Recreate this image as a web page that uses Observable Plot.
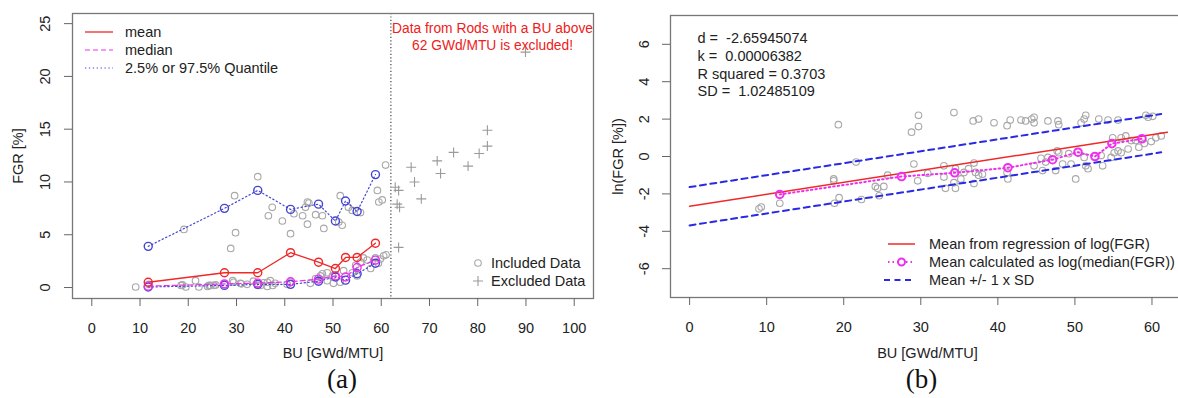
<!DOCTYPE html>
<html><head><meta charset="utf-8">
<script src="https://cdn.jsdelivr.net/npm/d3@7"></script>
<script src="https://cdn.jsdelivr.net/npm/@observablehq/plot@0.6"></script>
<style>
html,body{margin:0;padding:0;background:#fff;overflow:hidden;}
#root{position:relative;width:1178px;height:398px;overflow:hidden;background:#fff;}
.panel{position:absolute;top:0;width:600px;height:398px;}
.panel svg{max-width:none !important;}
</style></head><body><div id="root"><div id="pa" class="panel" style="left:0"></div><div id="pb" class="panel" style="left:600px"></div></div>
<script>
// ---------- Panel (a): FGR [%] vs BU ----------
const aIncBU = [9.1, 11.8, 18.5, 18.8, 19.1, 19.5, 21.5, 22.2, 24.0, 24.3, 24.6, 25.3, 25.7, 27.5, 28.8, 29.2, 29.4, 29.6, 29.8, 30.8, 31.0, 32.2, 33.5, 34.4, 34.4, 35.0, 35.6, 36.4, 36.4, 36.6, 37.0, 37.4, 37.5, 38.0, 39.5, 40.5, 41.2, 41.2, 41.9, 43.7, 44.3, 44.7, 44.7, 45.0, 45.3, 46.4, 46.4, 47.4, 47.8, 47.8, 48.1, 48.8, 48.8, 49.9, 50.1, 51.2, 51.5, 51.5, 51.9, 52.2, 53.2, 54.0, 54.0, 54.7, 55.0, 55.7, 55.7, 56.3, 57.1, 57.8, 58.8, 59.2, 59.4, 59.5, 59.8, 60.2, 60.5, 60.9, 61.0];
const aIncFGR = [0.05, 0.3, 0.2, 0.25, 5.5, 0.05, 0.65, 0.05, 0.1, 0.2, 0.2, 0.2, 0.25, 0.3, 3.7, 0.65, 0.5, 8.7, 5.2, 0.4, 0.35, 0.3, 0.6, 10.5, 0.2, 0.2, 0.45, 0.1, 0.5, 6.8, 0.65, 7.6, 0.2, 0.4, 6.3, 0.3, 5.1, 0.5, 7.0, 6.8, 7.6, 6.0, 8.1, 8.0, 0.4, 6.9, 0.85, 1.1, 6.8, 1.3, 5.6, 1.4, 0.65, 1.1, 0.4, 6.2, 8.7, 0.5, 5.9, 1.6, 7.6, 7.3, 1.4, 2.1, 1.1, 7.1, 2.4, 2.8, 2.6, 1.8, 2.8, 9.2, 2.3, 8.1, 2.7, 8.3, 3.0, 11.6, 3.1];
const aExBU  = [62.9, 63.6, 63.3, 63.8, 63.6, 66.2, 66.9, 68.3, 71.6, 72.3, 75.0, 78.0, 80.3, 82.0, 82.0, 89.9];
const aExFGR = [9.5, 9.2, 7.9, 7.6, 3.8, 11.4, 10.0, 8.4, 12.0, 10.8, 12.8, 11.5, 12.7, 13.4, 14.9, 22.3];
const statBU    = [11.7, 27.5, 34.4, 41.2, 47.0, 50.5, 52.6, 55.0, 58.8];
const meanFGR   = [0.5, 1.4, 1.4, 3.3, 2.4, 1.8, 2.85, 2.85, 4.2];
const medianFGR = [0.13, 0.34, 0.42, 0.55, 0.8, 1.1, 1.0, 1.9, 2.6];
const q975FGR   = [3.9, 7.5, 9.2, 7.4, 7.9, 6.3, 8.2, 7.2, 10.7];
const q025FGR   = [0.05, 0.2, 0.3, 0.3, 0.6, 1.0, 0.7, 1.3, 2.3];
const cutoffBU  = [62];
const aXTicks = [0, 10, 20, 30, 40, 50, 60, 70, 80, 90, 100];
const aYTicks = [0, 5, 10, 15, 20, 25];
const aLegendTop = ["mean", "median", "2.5% or 97.5% Quantile"];
const aLegendBottom = ["Included Data", "Excluded Data"];
const aNote = "Data from Rods with a BU above\n62 GWd/MTU is excluded!";

// ---------- Panel (b): ln(FGR) vs BU ----------
const bBU = [9.0, 9.3, 11.7, 18.7, 18.7, 18.8, 19.3, 19.4, 21.6, 22.3, 24.1, 24.4, 24.6, 25.2, 25.7, 28.8, 29.1, 29.6, 29.7, 29.7, 30.9, 33.0, 33.0, 33.2, 34.3, 34.3, 34.5, 34.5, 35.2, 35.6, 36.2, 36.8, 36.9, 36.9, 37.1, 37.5, 37.5, 38.0, 39.5, 41.2, 41.2, 41.3, 41.6, 43.0, 43.6, 44.4, 44.7, 44.7, 44.7, 45.6, 45.8, 46.2, 46.5, 46.5, 47.5, 47.7, 47.8, 47.9, 47.9, 48.4, 49.2, 49.5, 50.1, 50.8, 51.2, 51.2, 51.4, 51.4, 51.7, 53.1, 53.4, 53.6, 54.3, 54.7, 54.9, 55.1, 55.6, 55.6, 56.0, 56.0, 56.6, 56.9, 57.3, 57.9, 58.3, 59.0, 59.2, 59.5, 59.9, 60.1, 60.5, 61.2];
const bLn = [-2.8, -2.7, -2.5, -1.2, -1.3, -2.5, 1.7, -2.2, -0.3, -2.3, -1.6, -1.7, -2.1, -1.6, -1.0, 1.3, -0.4, -1.3, 1.6, 2.2, -0.9, -0.5, -1.1, -1.7, 2.35, -1.4, -1.7, -0.65, -1.2, -0.85, -0.65, 1.9, -0.35, -1.45, -0.85, 2.0, -1.0, -0.95, 1.8, 1.65, -0.85, -1.2, 1.95, 1.95, 1.9, 2.0, 2.1, 1.8, -0.5, -0.1, -0.75, -0.3, 1.9, -0.05, -0.75, 0.3, 1.9, 1.7, 0.2, -0.4, 0.15, -0.4, -1.2, 1.8, 2.0, -0.05, 2.2, -0.5, -0.65, 2.0, 0.05, -0.5, 1.95, -0.05, 1.0, 0.2, 1.95, 0.3, 0.2, 1.0, 1.1, 0.4, 0.85, 0.85, 0.5, 0.7, 2.2, 2.1, 0.8, 2.15, 1.0, 1.1];
const bMedBU = [11.7, 27.5, 34.4, 41.3, 47.1, 50.4, 52.6, 54.8, 58.7];
const bMedLn = [-2.03, -1.07, -0.87, -0.6, -0.17, 0.23, 0.0, 0.69, 0.95];
const regBU    = [0, 62];
const regMean  = [-2.659, 1.298];
const sdBU     = [0, 61.2];
const sdUpper  = [-1.635, 2.272];
const sdLower  = [-3.684, 0.222];
const bXTicks = [0, 10, 20, 30, 40, 50, 60];
const bYTicks = [-6, -4, -2, 0, 2, 4, 6];
const bStats = "d =\u00a0 -2.65945074\nk =\u00a0 0.00006382\nR squared = 0.3703\nSD =\u00a0 1.02485109";
const bLegend = ["Mean from regression of log(FGR)", "Mean calculated as log(median(FGR))", "Mean +/- 1 x SD"];

// ---------- style ----------
const FONT = "'Liberation Sans', Arial, sans-serif";
const SERIF = "'Liberation Serif', 'Times New Roman', serif";
const TXT = "#222";
const AX = "#666";
const RED = "#f02828", MAG = "#ee30ee", BLUE = "#4444d4", BLUE2 = "#2a2ae6", GREY = "#a8a8a8", GREYX = "#9a9a9a";
const FS = 14.5;
const STYLE = {fontFamily: FONT, fontSize: FS + "px", background: "transparent", overflow: "visible", maxWidth: "none"};

const rows = (xs, ys) => xs.map((x, i) => ({x, y: ys[i]})).filter(d => d.y !== undefined);

function yTickLabels(ticks, dx) {
  return Plot.text(ticks, {y: d => d, text: d => String(d), frameAnchor: "left", dx, rotate: -90,
    textAnchor: "middle", lineAnchor: "middle", fontSize: FS, fill: TXT, fontFamily: FONT});
}

// ---------- Panel (a) ----------
const plotA = Plot.plot({
  width: 600, height: 398,
  marginLeft: 72, marginRight: 7, marginTop: 13, marginBottom: 100,
  x: {domain: [-4, 104]},
  y: {domain: [-1.04, 25.96]},
  style: STYLE,
  marks: [
    Plot.ruleX(cutoffBU, {x: d => d, stroke: "#333", strokeWidth: 1.1, strokeDasharray: "1.2,2.2"}),
    Plot.dot(rows(aIncBU, aIncFGR), {x: "x", y: "y", r: 3.3, stroke: GREY, strokeWidth: 1.1}),
    Plot.dot(rows(aExBU, aExFGR), {x: "x", y: "y", symbol: "plus", r: 3.3, stroke: GREYX, strokeWidth: 1.1}),
    Plot.line(rows(statBU, q975FGR), {x: "x", y: "y", stroke: BLUE, strokeWidth: 1.2, strokeDasharray: "1.3,2.6"}),
    Plot.line(rows(statBU, q025FGR), {x: "x", y: "y", stroke: BLUE, strokeWidth: 1.2, strokeDasharray: "1.3,2.6"}),
    Plot.line(rows(statBU, medianFGR), {x: "x", y: "y", stroke: MAG, strokeWidth: 1.2, strokeDasharray: "5,3"}),
    Plot.line(rows(statBU, meanFGR), {x: "x", y: "y", stroke: RED, strokeWidth: 1.3}),
    Plot.dot(rows(statBU, q975FGR), {x: "x", y: "y", r: 4, stroke: BLUE, strokeWidth: 1.4}),
    Plot.dot(rows(statBU, q025FGR), {x: "x", y: "y", r: 4, stroke: BLUE, strokeWidth: 1.4}),
    Plot.dot(rows(statBU, medianFGR), {x: "x", y: "y", r: 4, stroke: MAG, strokeWidth: 1.4}),
    Plot.dot(rows(statBU, meanFGR), {x: "x", y: "y", r: 4, stroke: RED, strokeWidth: 1.4}),
    Plot.frame({stroke: "#777", strokeWidth: 1.3}),
    Plot.axisX({ticks: aXTicks, tickSize: 8, tickPadding: 16, label: null, stroke: AX, fill: TXT, fontSize: FS, tickFormat: d => String(d)}),
    Plot.axisY({ticks: aYTicks, tickSize: 8, label: null, stroke: AX, tickFormat: () => ""}),
    yTickLabels(aYTicks, -27),
    Plot.text(["FGR [%]"], {frameAnchor: "left", dx: -54, rotate: -90, textAnchor: "middle", lineAnchor: "middle", fontSize: FS, fill: TXT}),
    Plot.text(["BU [GWd/MTU]"], {frameAnchor: "bottom", dy: 55, textAnchor: "middle", lineAnchor: "middle", fontSize: FS, fill: TXT}),
    Plot.text([aNote], {frameAnchor: "top-right", dx: -101, dy: 22.5, textAnchor: "middle", lineAnchor: "middle", lineHeight: 1.24, fontSize: 13.8, fill: "#f02020"}),
    Plot.text(["(a)"], {frameAnchor: "bottom", dx: 9, dy: 80.5, textAnchor: "middle", lineAnchor: "middle", fontSize: 27, fontFamily: SERIF, fill: "#111"})
  ]
});
document.getElementById("pa").appendChild(plotA);

// legend (a), drawn into the plot's svg
(function () {
  const g = d3.select(plotA).append("g").attr("font-family", FONT).attr("font-size", FS).attr("fill", TXT).attr("text-anchor", "start");
  const styles = [
    {stroke: RED, dash: null, w: 1.3},
    {stroke: MAG, dash: "5,3", w: 1.2},
    {stroke: BLUE, dash: "1.3,2.6", w: 1.2}
  ];
  aLegendTop.forEach((lab, i) => {
    const y = 32 + i * 18;
    g.append("line").attr("x1", 85).attr("x2", 113).attr("y1", y).attr("y2", y)
      .attr("stroke", styles[i].stroke).attr("stroke-width", styles[i].w).attr("stroke-dasharray", styles[i].dash);
    g.append("text").attr("x", 125).attr("y", y).attr("dy", "0.35em").text(lab);
  });
  const y1 = 263, y2 = 281;
  g.append("circle").attr("cx", 478).attr("cy", y1).attr("r", 3.3).attr("fill", "none").attr("stroke", GREY).attr("stroke-width", 1.1);
  g.append("path").attr("d", `M473,${y2}H483M478,${y2 - 5}V${y2 + 5}`).attr("stroke", GREYX).attr("stroke-width", 1.1).attr("fill", "none");
  g.append("text").attr("x", 491).attr("y", y1).attr("dy", "0.35em").text(aLegendBottom[0]);
  g.append("text").attr("x", 491).attr("y", y2).attr("dy", "0.35em").text(aLegendBottom[1]);
})();

// ---------- Panel (b) ----------
const plotB = Plot.plot({
  width: 600, height: 398,
  marginLeft: 70, marginRight: 14, marginTop: 15, marginBottom: 101,
  x: {domain: [-2.48, 64.48]},
  y: {domain: [-7.54, 7.54]},
  style: STYLE,
  marks: [
    Plot.dot(rows(bBU, bLn), {x: "x", y: "y", r: 3.3, stroke: GREY, strokeWidth: 1.1}),
    Plot.line(rows(sdBU, sdUpper), {x: "x", y: "y", stroke: BLUE2, strokeWidth: 2, strokeDasharray: "6,4.5"}),
    Plot.line(rows(sdBU, sdLower), {x: "x", y: "y", stroke: BLUE2, strokeWidth: 2, strokeDasharray: "6,4.5"}),
    Plot.line(rows(regBU, regMean), {x: "x", y: "y", stroke: RED, strokeWidth: 1.5}),
    Plot.line(rows(bMedBU, bMedLn), {x: "x", y: "y", stroke: MAG, strokeWidth: 2, strokeDasharray: "1.5,3"}),
    Plot.dot(rows(bMedBU, bMedLn), {x: "x", y: "y", r: 3.8, stroke: MAG, strokeWidth: 2}),
    Plot.frame({stroke: "#777", strokeWidth: 1.3}),
    Plot.axisX({ticks: bXTicks, tickSize: 8, tickPadding: 16, label: null, stroke: AX, fill: TXT, fontSize: FS, tickFormat: d => String(d)}),
    Plot.axisY({ticks: bYTicks, tickSize: 8, label: null, stroke: AX, tickFormat: () => ""}),
    yTickLabels(bYTicks, -26),
    Plot.text(["ln(FGR [%])"], {frameAnchor: "left", dx: -52, rotate: -90, textAnchor: "middle", lineAnchor: "middle", fontSize: FS, fill: TXT}),
    Plot.text(["BU [GWd/MTU]"], {frameAnchor: "bottom", dy: 56, dx: -1, textAnchor: "middle", lineAnchor: "middle", fontSize: FS, fill: TXT}),
    Plot.text([bStats], {frameAnchor: "top-left", dx: 27, dy: 48.5, textAnchor: "start", lineAnchor: "middle", lineHeight: 1.22, fontSize: FS, fill: TXT}),
    Plot.text(["(b)"], {frameAnchor: "bottom", dx: -7, dy: 81.5, textAnchor: "middle", lineAnchor: "middle", fontSize: 27, fontFamily: SERIF, fill: "#111"})
  ]
});
document.getElementById("pb").appendChild(plotB);

// legend (b)
(function () {
  const g = d3.select(plotB).append("g").attr("font-family", FONT).attr("font-size", FS).attr("fill", TXT).attr("text-anchor", "start");
  const ys = [244, 262, 280];
  g.append("line").attr("x1", 288).attr("x2", 315).attr("y1", ys[0]).attr("y2", ys[0]).attr("stroke", RED).attr("stroke-width", 1.5);
  g.append("line").attr("x1", 288).attr("x2", 315).attr("y1", ys[1]).attr("y2", ys[1]).attr("stroke", MAG).attr("stroke-width", 2).attr("stroke-dasharray", "1.5,3");
  g.append("circle").attr("cx", 301.5).attr("cy", ys[1]).attr("r", 3.5).attr("fill", "#fff").attr("stroke", MAG).attr("stroke-width", 2);
  g.append("line").attr("x1", 284).attr("x2", 315).attr("y1", ys[2]).attr("y2", ys[2]).attr("stroke", BLUE2).attr("stroke-width", 2).attr("stroke-dasharray", "6,4.5");
  bLegend.forEach((lab, i) => g.append("text").attr("x", 329).attr("y", ys[i]).attr("dy", "0.35em").text(lab));
})();
</script>
</body></html>
